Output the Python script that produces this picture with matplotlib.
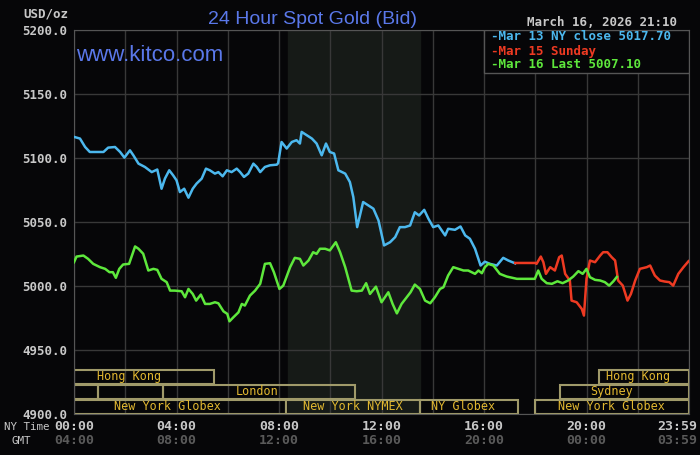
import matplotlib
matplotlib.use("Agg")
import matplotlib.pyplot as plt
import matplotlib.transforms as mtransforms
from matplotlib.patches import Rectangle

# minutes after NY midnight, price in USD/oz
blue_min = [0, 14, 26, 37, 53, 69, 80, 96, 108, 118, 131, 139, 151, 166, 182, 195, 205, 213,
            223, 232, 240, 248, 258, 268, 278, 287, 299, 309, 318, 330, 338, 348, 358, 369,
            381, 389, 398, 408, 420, 428, 436, 447, 459, 475, 478, 486, 498, 510, 521, 529,
            533, 545, 557, 568, 580, 590, 599, 609, 619, 635, 646, 654, 663, 677, 689, 701,
            713, 726, 740, 752, 763, 775, 787, 798, 808, 820, 830, 841, 853, 869, 876, 892,
            905, 916, 927, 939, 952, 962, 974, 990, 1005, 1017, 1033]
blue_val = [5116.5, 5115.2, 5108.6, 5104.7, 5104.7, 5104.7, 5108.1, 5108.6, 5104.7, 5100.3,
            5106.0, 5102.1, 5095.6, 5093.0, 5089.0, 5091.0, 5076.0, 5084.0, 5090.4, 5086.5,
            5082.6, 5073.4, 5076.0, 5069.0, 5076.0, 5080.0, 5083.9, 5091.7, 5090.4, 5087.8,
            5089.0, 5085.7, 5090.4, 5089.0, 5091.7, 5089.0, 5085.2, 5087.8, 5095.6, 5093.0,
            5089.0, 5093.0, 5094.3, 5094.8, 5096.0, 5112.5, 5107.4, 5112.5, 5113.9, 5111.3,
            5120.4, 5117.8, 5115.2, 5111.3, 5102.1, 5111.3, 5104.7, 5103.5, 5090.4, 5087.8,
            5081.2, 5069.5, 5046.0, 5065.6, 5063.0, 5060.4, 5051.2, 5031.7, 5034.2, 5038.2,
            5046.0, 5046.0, 5047.3, 5057.6, 5055.1, 5059.5, 5052.5, 5046.0, 5047.3, 5039.5,
            5044.7, 5043.9, 5046.5, 5039.5, 5036.9, 5029.1, 5016.0, 5019.0, 5017.3, 5016.0,
            5022.0, 5019.9, 5017.7]

red_min = [1033, 1080, 1083, 1093, 1099, 1105, 1115, 1126, 1136, 1142, 1150, 1161, 1165, 1177,
           1189, 1194, 1200, 1208, 1220, 1232, 1239, 1249, 1259, 1267, 1274, 1285, 1296, 1304,
           1314, 1325, 1341, 1349, 1360, 1372, 1383, 1394, 1403, 1415, 1427, 1439]
red_val = [5018.0, 5018.0, 5017.3, 5023.0, 5018.6, 5009.5, 5014.7, 5012.1, 5022.5, 5023.8,
           5009.5, 5004.3, 4988.6, 4987.3, 4982.1, 4976.9, 5005.6, 5019.9, 5018.6, 5023.8,
           5026.4, 5026.4, 5022.5, 5019.9, 5004.3, 5000.3, 4988.6, 4993.8, 5004.3, 5013.4,
           5014.7, 5016.0, 5008.2, 5004.3, 5003.5, 5003.0, 5000.3, 5009.5, 5014.7, 5019.4]

green_min = [0, 6, 22, 33, 45, 61, 73, 83, 91, 98, 106, 115, 129, 143, 151, 162, 174, 186, 195,
             205, 217, 225, 236, 252, 260, 268, 278, 286, 297, 307, 318, 330, 338, 350, 359,
             364, 373, 385, 393, 400, 412, 424, 436, 447, 459, 468, 481, 490, 506, 517, 529,
             537, 549, 560, 568, 576, 588, 599, 613, 623, 635, 650, 662, 674, 684, 693, 707,
             720, 736, 746, 756, 767, 779, 788, 798, 810, 822, 834, 845, 857, 865, 876, 888,
             900, 912, 923, 939, 947, 955, 962, 970, 982, 997, 1013, 1037, 1079, 1087, 1095,
             1107, 1119, 1132, 1144, 1157, 1169, 1181, 1191, 1200, 1208, 1220, 1232, 1243,
             1253, 1263, 1271]
green_val = [5018.6, 5023.0, 5023.8, 5021.2, 5017.3, 5014.7, 5013.4, 5010.8, 5010.8, 5006.4,
             5013.4, 5016.8, 5017.3, 5030.9, 5029.1, 5025.2, 5012.1, 5013.4, 5012.6, 5005.6,
             5003.0, 4996.4, 4996.4, 4995.9, 4991.2, 4997.7, 4993.8, 4988.6, 4993.3, 4986.0,
             4986.0, 4987.3, 4986.5, 4980.2, 4978.2, 4972.4, 4975.5, 4979.4, 4986.0, 4984.7,
             4992.5, 4996.4, 5001.7, 5017.3, 5017.8, 5010.8, 4997.7, 5000.3, 5014.7, 5022.0,
             5021.2, 5016.0, 5019.9, 5026.4, 5025.1, 5029.1, 5029.1, 5027.8, 5034.2, 5026.4,
             5014.7, 4996.4, 4995.9, 4996.4, 5002.2, 4993.8, 4999.5, 4987.3, 4995.1, 4986.0,
             4978.6, 4986.0, 4991.2, 4995.1, 5001.1, 4997.7, 4988.6, 4986.5, 4991.2, 4997.7,
             4999.0, 5008.2, 5014.7, 5013.4, 5012.1, 5012.1, 5009.5, 5012.1, 5010.0, 5014.7,
             5017.3, 5016.0, 5009.5, 5007.4, 5005.6, 5005.6, 5012.1, 5005.6, 5002.2, 5001.7,
             5003.7, 5002.2, 5004.3, 5007.4, 5011.6, 5009.5, 5013.4, 5006.9, 5004.8, 5004.3,
             5003.0, 5000.3, 5003.7, 5007.1]

legend_labels = ["Mar 13 NY close 5017.70", "Mar 15 Sunday", "Mar 16 Last 5007.10"]
colors = ["#4cb8ee", "#ee3a22", "#5ee83c"]

y_ticks = [4900, 4950, 5000, 5050, 5100, 5150, 5200]
ny_labels = ["00:00", "04:00", "08:00", "12:00", "16:00", "20:00", "23:59"]
gmt_labels = ["04:00", "08:00", "12:00", "16:00", "20:00", "00:00", "03:59"]
label_min = [0, 240, 480, 720, 960, 1200, 1413]

nymex_span = (500, 810)
# (label, start, end, row from top, label position) in minutes
sessions = [
    ("Hong Kong", 0, 328, 0, 128),
    ("", 0, 56, 1, None),
    ("", 56, 208, 1, None),
    ("London", 208, 658, 1, 429),
    ("New York Globex", 0, 496, 2, 218),
    ("New York NYMEX", 496, 810, 2, 652),
    ("NY Globex", 810, 1040, 2, 911),
    ("New York Globex", 1080, 1440, 2, 1259),
    ("Sydney", 1138, 1440, 1, 1258),
    ("Hong Kong", 1229, 1440, 0, 1320),
]

bg = "#060608"
grid_c = "#383838"
mono = "DejaVu Sans Mono"

fig = plt.figure(figsize=(7, 4.55), dpi=100, facecolor=bg)
ax = fig.add_axes([74 / 700, 41 / 455, 615 / 700, 384 / 455], facecolor=bg)

ax.set_xlim(0, 1440)
ax.set_ylim(4900, 5200)
ax.set_xticks(range(0, 1441, 120))
ax.set_xticklabels([])
ax.set_yticks(y_ticks)
ax.set_yticklabels([f"{v:.1f}" for v in y_ticks], fontfamily=mono, fontweight="bold",
                   fontsize=9, color="#c8c8c8")
ax.tick_params(length=0, pad=5)
ax.grid(True, color=grid_c, linewidth=1.0)
ax.set_axisbelow(True)
for s in ax.spines.values():
    s.set_color("#555555")

ax.axvspan(*nymex_span, color="#161a17", zorder=0)

ax.plot(blue_min, blue_val, color=colors[0], lw=1.8, zorder=3)
ax.plot(red_min, red_val, color=colors[1], lw=1.8, zorder=3)
ax.plot(green_min, green_val, color=colors[2], lw=1.8, zorder=4)

# session boxes along the bottom
trans = mtransforms.blended_transform_factory(ax.transData, ax.transAxes)
row_y = [0.078, 0.039, 0.0]
row_h = 0.037
for name, start, end, row, lx in sessions:
    ax.add_patch(Rectangle((start, row_y[row]), end - start, row_h, transform=trans,
                           fill=False, edgecolor="#a09a6a", lw=1.5, zorder=2))
    if name:
        ax.text(lx, row_y[row] + row_h / 2, name, transform=trans, ha="center", va="center",
                fontfamily=mono, fontsize=8.5, color="#e2b830", zorder=5)

# legend box
ax.add_patch(Rectangle((2 / 3, 0.888), 1 / 3, 0.112, transform=ax.transAxes,
                       facecolor=bg, edgecolor="#555555", lw=1.0, zorder=6))
for i, (lab, c) in enumerate(zip(legend_labels, colors)):
    fig.text(491 / 700, 1 - (37 + 14 * i) / 455, "-" + lab, ha="left", va="center",
             fontfamily=mono, fontweight="bold", fontsize=9, color=c, zorder=7)

# time labels
tx = mtransforms.blended_transform_factory(ax.transData, fig.transFigure)
for m, ny, gmt in zip(label_min, ny_labels, gmt_labels):
    ax.text(m, 1 - 427 / 455, ny, transform=tx, ha="center", va="center", fontfamily=mono,
            fontweight="bold", fontsize=9.5, color="#c8c8c8")
    ax.text(m, 1 - 441 / 455, gmt, transform=tx, ha="center", va="center", fontfamily=mono,
            fontweight="bold", fontsize=9.5, color="#5a5a5a")
fig.text(49 / 700, 1 - 427 / 455, "NY Time", ha="right", va="center", fontfamily=mono,
         fontsize=7.8, color="#c8c8c8")
fig.text(31 / 700, 1 - 441 / 455, "GMT", ha="right", va="center", fontfamily=mono,
         fontsize=7.8, color="#c8c8c8")

fig.text(68 / 700, 1 - 14 / 455, "USD/oz", ha="right", va="center", fontfamily=mono,
         fontweight="bold", fontsize=9, color="#c8c8c8")
fig.text(313 / 700, 1 - 24 / 455, "24 Hour Spot Gold (Bid)", ha="center", va="baseline",
         fontfamily="Liberation Sans", fontsize=14, color="#5a78ea")
fig.text(76 / 700, 1 - 61 / 455, "www.kitco.com", ha="left", va="baseline",
         fontfamily="Liberation Sans", fontsize=16, color="#5a78ea", zorder=7)
fig.text(677 / 700, 1 - 22 / 455, "March 16, 2026 21:10", ha="right", va="center",
         fontfamily=mono, fontweight="bold", fontsize=9, color="#c8c8c8")

fig.savefig("out.png", dpi=100, facecolor=bg)
